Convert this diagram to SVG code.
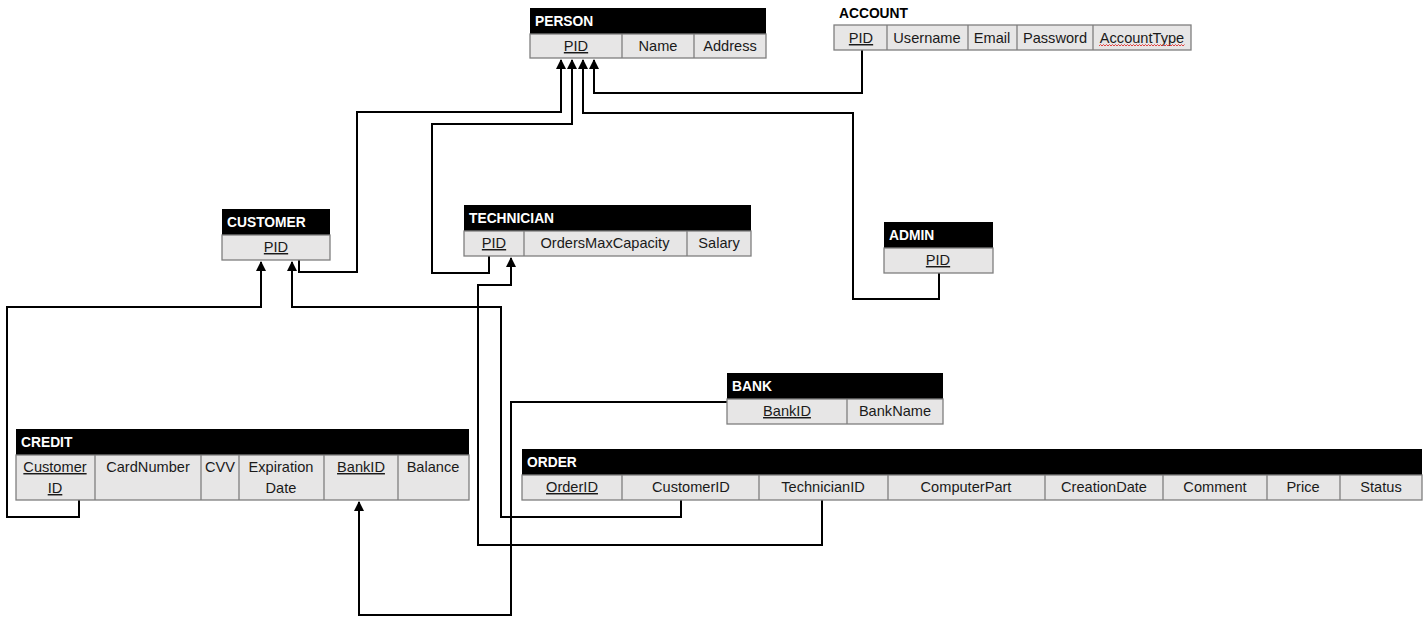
<svg xmlns="http://www.w3.org/2000/svg" width="1428" height="622" viewBox="0 0 1428 622">
<defs>
<marker id="arr" viewBox="0 0 10 10" refX="9" refY="5" markerWidth="10" markerHeight="11" markerUnits="userSpaceOnUse" orient="auto">
<path d="M0,0 L10,5 L0,10 z" fill="#000"/>
</marker>
</defs>
<style>
.hd{fill:#000}
.row{fill:#e7e6e6;stroke:#7f7f7f;stroke-width:1.3}
.dv{stroke:#7f7f7f;stroke-width:1.3}
.ttl{font-family:"Liberation Sans",Arial,sans-serif;font-weight:bold;font-size:13.8px;fill:#fff}
.ttlb{font-family:"Liberation Sans",Arial,sans-serif;font-weight:bold;font-size:13.8px;fill:#000}
.t{font-family:"Liberation Sans",Arial,sans-serif;font-size:14.6px;fill:#1a1a1a;text-anchor:middle}
.u{text-decoration:underline}
.c{fill:none;stroke:#000;stroke-width:2}
.ca{fill:none;stroke:#000;stroke-width:2;marker-end:url(#arr)}
</style>
<rect width="1428" height="622" fill="#fff"/>

<g id="connectors">
<path class="ca" d="M862,50 V93 H594 V60"/>
<path class="ca" d="M939,273 V299 H853 V113 H583 V60"/>
<path class="ca" d="M489,256 V273 H432 V124 H572 V60"/>
<path class="ca" d="M299,260 V272 H357 V112 H561 V60"/>
<path class="ca" d="M79,500 V517 H7 V307 H261 V262"/>
<path class="ca" d="M681,500 V517 H501 V307 H292 V262"/>
<path class="ca" d="M822,500 V545 H478 V285 H511 V258"/>
<path class="ca" d="M727,402 H511 V615 H359 V502"/>
</g>

<g id="person">
<rect class="hd" x="530" y="8" width="236" height="26"/>
<text class="ttl" x="535" y="26">PERSON</text>
<rect class="row" x="530" y="34" width="236" height="24"/>
<line class="dv" x1="622" y1="34" x2="622" y2="58"/>
<line class="dv" x1="694" y1="34" x2="694" y2="58"/>
<text class="t u" x="576" y="51">PID</text>
<text class="t" x="658" y="51">Name</text>
<text class="t" x="730" y="51">Address</text>
</g>

<g id="account">
<text class="ttlb" x="839" y="18">ACCOUNT</text>
<rect class="row" x="834" y="25" width="357" height="25"/>
<line class="dv" x1="887" y1="25" x2="887" y2="50"/>
<line class="dv" x1="968" y1="25" x2="968" y2="50"/>
<line class="dv" x1="1017" y1="25" x2="1017" y2="50"/>
<line class="dv" x1="1093" y1="25" x2="1093" y2="50"/>
<text class="t u" x="861" y="43">PID</text>
<text class="t" x="927" y="43">Username</text>
<text class="t" x="992" y="43">Email</text>
<text class="t" x="1055" y="43">Password</text>
<text class="t" x="1142" y="43">AccountType</text>
<path d="M1099,46 l1.5,-1.5 l1.5,1.5 l1.5,-1.5 l1.5,1.5 l1.5,-1.5 l1.5,1.5 l1.5,-1.5 l1.5,1.5 l1.5,-1.5 l1.5,1.5 l1.5,-1.5 l1.5,1.5 l1.5,-1.5 l1.5,1.5 l1.5,-1.5 l1.5,1.5 l1.5,-1.5 l1.5,1.5 l1.5,-1.5 l1.5,1.5 l1.5,-1.5 l1.5,1.5 l1.5,-1.5 l1.5,1.5 l1.5,-1.5 l1.5,1.5 l1.5,-1.5 l1.5,1.5 l1.5,-1.5 l1.5,1.5 l1.5,-1.5 l1.5,1.5 l1.5,-1.5 l1.5,1.5 l1.5,-1.5 l1.5,1.5 l1.5,-1.5 l1.5,1.5 l1.5,-1.5 l1.5,1.5 l1.5,-1.5 l1.5,1.5 l1.5,-1.5 l1.5,1.5 l1.5,-1.5 l1.5,1.5 l1.5,-1.5 l1.5,1.5 l1.5,-1.5 l1.5,1.5 l1.5,-1.5 l1.5,1.5 l1.5,-1.5 l1.5,1.5 l1.5,-1.5 l1.5,1.5 l1.5,-1.5" fill="none" stroke="#e03030" stroke-width="0.9"/>
</g>

<g id="customer">
<rect class="hd" x="222" y="209" width="108" height="26"/>
<text class="ttl" x="227" y="227">CUSTOMER</text>
<rect class="row" x="222" y="235" width="108" height="25"/>
<text class="t u" x="276" y="252">PID</text>
</g>

<g id="technician">
<rect class="hd" x="464" y="205" width="287" height="26"/>
<text class="ttl" x="469" y="223">TECHNICIAN</text>
<rect class="row" x="464" y="231" width="287" height="25"/>
<line class="dv" x1="524" y1="231" x2="524" y2="256"/>
<line class="dv" x1="687" y1="231" x2="687" y2="256"/>
<text class="t u" x="494" y="248">PID</text>
<text class="t" x="605" y="248">OrdersMaxCapacity</text>
<text class="t" x="719" y="248">Salary</text>
</g>

<g id="admin">
<rect class="hd" x="884" y="222" width="109" height="26"/>
<text class="ttl" x="889" y="240">ADMIN</text>
<rect class="row" x="884" y="248" width="109" height="25"/>
<text class="t u" x="938" y="265">PID</text>
</g>

<g id="bank">
<rect class="hd" x="727" y="373" width="216" height="26"/>
<text class="ttl" x="732" y="391">BANK</text>
<rect class="row" x="727" y="399" width="216" height="25"/>
<line class="dv" x1="847" y1="399" x2="847" y2="424"/>
<text class="t u" x="787" y="416">BankID</text>
<text class="t" x="895" y="416">BankName</text>
</g>

<g id="credit">
<rect class="hd" x="16" y="429" width="453" height="26"/>
<text class="ttl" x="21" y="447">CREDIT</text>
<rect class="row" x="16" y="455" width="453" height="45"/>
<line class="dv" x1="95" y1="455" x2="95" y2="500"/>
<line class="dv" x1="201" y1="455" x2="201" y2="500"/>
<line class="dv" x1="239" y1="455" x2="239" y2="500"/>
<line class="dv" x1="324" y1="455" x2="324" y2="500"/>
<line class="dv" x1="398" y1="455" x2="398" y2="500"/>
<text class="t u" x="55" y="472">Customer</text>
<text class="t u" x="55" y="493">ID</text>
<text class="t" x="148" y="472">CardNumber</text>
<text class="t" x="220" y="472">CVV</text>
<text class="t" x="281" y="472">Expiration</text>
<text class="t" x="281" y="493">Date</text>
<text class="t u" x="361" y="472">BankID</text>
<text class="t" x="433" y="472">Balance</text>
</g>

<g id="order">
<rect class="hd" x="522" y="449" width="900" height="26"/>
<text class="ttl" x="527" y="467">ORDER</text>
<rect class="row" x="522" y="475" width="900" height="25"/>
<line class="dv" x1="622" y1="475" x2="622" y2="500"/>
<line class="dv" x1="759" y1="475" x2="759" y2="500"/>
<line class="dv" x1="888" y1="475" x2="888" y2="500"/>
<line class="dv" x1="1045" y1="475" x2="1045" y2="500"/>
<line class="dv" x1="1163" y1="475" x2="1163" y2="500"/>
<line class="dv" x1="1267" y1="475" x2="1267" y2="500"/>
<line class="dv" x1="1340" y1="475" x2="1340" y2="500"/>
<text class="t u" x="572" y="492">OrderID</text>
<text class="t" x="691" y="492">CustomerID</text>
<text class="t" x="823" y="492">TechnicianID</text>
<text class="t" x="966" y="492">ComputerPart</text>
<text class="t" x="1104" y="492">CreationDate</text>
<text class="t" x="1215" y="492">Comment</text>
<text class="t" x="1303" y="492">Price</text>
<text class="t" x="1381" y="492">Status</text>
</g>
</svg>
